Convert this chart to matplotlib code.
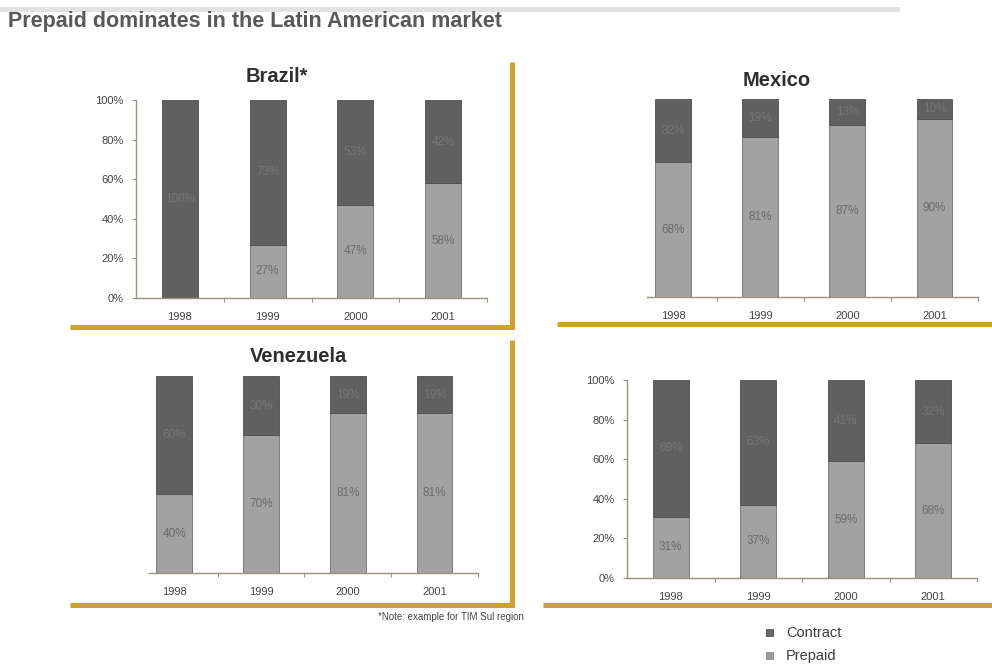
import matplotlib
matplotlib.use("Agg")
import matplotlib.pyplot as plt
from matplotlib.lines import Line2D
from matplotlib.patches import Rectangle

plt.rcParams['font.family'] = ['Liberation Sans', 'DejaVu Sans']

# ---- data -------------------------------------------------------------
years = ["1998", "1999", "2000", "2001"]
brazil_contract = [100, 73, 53, 42]
brazil_prepaid = [0, 27, 47, 58]
mexico_contract = [32, 19, 13, 10]
mexico_prepaid = [68, 81, 87, 90]
venezuela_contract = [60, 30, 19, 19]
venezuela_prepaid = [40, 70, 81, 81]
other_contract = [69, 63, 41, 32]
other_prepaid = [31, 37, 59, 68]
y_ticks = [0, 20, 40, 60, 80, 100]
y_tick_labels = ["0%", "20%", "40%", "60%", "80%", "100%"]
series_names = ["Contract", "Prepaid"]

# ---- style ------------------------------------------------------------
W, H = 992, 666
C_CONTRACT = "#606060"
C_PREPAID = "#a2a2a2"
GOLD = "#cfa12e"
AXIS = "#9a9080"

fig = plt.figure(figsize=(W / 100, H / 100), dpi=100)
fig.patch.set_facecolor("white")


def px_axes(x0, y0, x1, y1):
    """Axes from pixel box (left, top, right, bottom)."""
    return fig.add_axes([x0 / W, 1 - y1 / H, (x1 - x0) / W, (y1 - y0) / H])


def fx(x):
    return x / W


def fy(y):
    return 1 - y / H


def draw_panel(box, xlim, contract, prepaid, show_y):
    ax = px_axes(*box)
    xs = list(range(len(years)))
    ax.bar(xs, prepaid, width=0.41, color=C_PREPAID, edgecolor="#707070",
           linewidth=0.6, zorder=2)
    ax.bar(xs, contract, width=0.41, bottom=prepaid, color=C_CONTRACT,
           edgecolor="#4e4e4e", linewidth=0.6, zorder=2)
    for x, c, p in zip(xs, contract, prepaid):
        if p > 0:
            ax.text(x, p / 2, f"{p}%", ha="center", va="center",
                    fontsize=8.5, color="#6a6a6a", zorder=3)
        if c > 0:
            ax.text(x, p + c / 2, f"{c}%", ha="center", va="center",
                    fontsize=8.5, color="#767676", zorder=3)
    ax.set_xlim(*xlim)
    ax.set_ylim(0, 100)
    ax.set_xticks(xs)
    ax.set_xticklabels(years, fontsize=8, color="#444444")
    ax.set_xticks([0.5, 1.5, 2.5, 3.5], minor=True)
    ax.tick_params(axis="x", which="major", length=0, pad=10)
    ax.tick_params(axis="x", which="minor", length=3, color=AXIS, width=0.8)
    for s in ("top", "right"):
        ax.spines[s].set_visible(False)
    ax.spines["bottom"].set_color(AXIS)
    ax.spines["bottom"].set_linewidth(1.0)
    if show_y:
        ax.set_yticks(y_ticks)
        ax.set_yticklabels(y_tick_labels, fontsize=8, color="#444444")
        ax.tick_params(axis="y", length=3, color=AXIS, width=0.8, pad=6)
        ax.spines["left"].set_color(AXIS)
        ax.spines["left"].set_linewidth(1.0)
    else:
        ax.set_yticks([])
        ax.spines["left"].set_visible(False)
    ax.set_facecolor("none")
    return ax


draw_panel((136, 100, 487, 298), (-0.5, 3.5), brazil_contract, brazil_prepaid, True)
draw_panel((647, 99, 978, 297), (-0.3, 3.49), mexico_contract, mexico_prepaid, False)
draw_panel((149, 376, 478, 573), (-0.29, 3.48), venezuela_contract, venezuela_prepaid, False)
draw_panel((627, 380, 977, 578), (-0.5, 3.48), other_contract, other_prepaid, True)

# ---- gold frame lines ---------------------------------------------------
def gold(x0, y0, x1, y1):
    fig.add_artist(Line2D([fx(x0), fx(x1)], [fy(y0), fy(y1)], color=GOLD,
                          linewidth=3.6, solid_capstyle="butt",
                          transform=fig.transFigure))

gold(70, 327, 514, 327)
gold(512, 62, 512, 329)
gold(557, 324, 992, 324)
gold(70, 605, 514, 605)
gold(512, 340, 512, 607)
gold(543, 605, 992, 605)

# ---- titles -----------------------------------------------------------
fig.add_artist(Rectangle((fx(0), fy(12)), fx(900), 5 / H, transform=fig.transFigure,
                         facecolor="#e2e2e2", edgecolor="none"))
fig.text(fx(8), fy(22), "Prepaid dominates in the Latin American market",
         fontsize=15.5, fontweight="bold", color="#585858", ha="left", va="center")
fig.text(fx(277), fy(76), "Brazil*", fontsize=14.5, fontweight="bold",
         color="#2e2e2e", ha="center", va="center")
fig.text(fx(777), fy(80), "Mexico", fontsize=14.5, fontweight="bold",
         color="#2e2e2e", ha="center", va="center")
fig.text(fx(298), fy(356), "Venezuela", fontsize=14.5, fontweight="bold",
         color="#2e2e2e", ha="center", va="center")
fig.text(fx(378), fy(617), "*Note: example for TIM Sul region", fontsize=7,
         color="#444444", ha="left", va="center")

# ---- legend -----------------------------------------------------------
for name, col, y in zip(series_names, ["#666666", "#9c9c9c"], [633, 656]):
    fig.add_artist(Rectangle((fx(766), fy(y + 4)), 8 / W, 8 / H,
                             transform=fig.transFigure, facecolor=col,
                             edgecolor="none"))
    fig.text(fx(786), fy(y), name, fontsize=10.5, color="#3c3c3c",
             ha="left", va="center")

fig.savefig("out.png", dpi=100, facecolor="white")
